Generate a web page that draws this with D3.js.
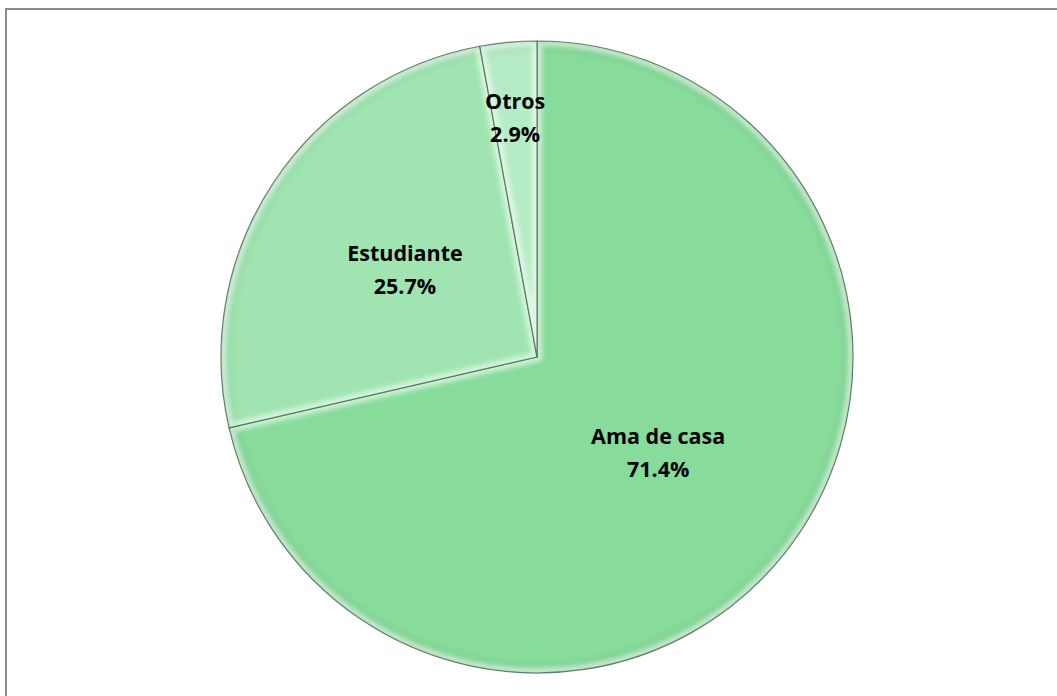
<!DOCTYPE html>
<html>
<head>
<meta charset="utf-8">
<script src="https://cdn.jsdelivr.net/npm/d3@7"></script>
<style>
  html, body { margin: 0; padding: 0; background: #fff; }
  svg { display: block; }
</style>
</head>
<body>
<script>
// Ocupación: share of respondents per category
const categories = ["Ama de casa", "Estudiante", "Otros"];
const values = [71.4, 25.7, 2.9];
const sliceColors = ["#88dc9b", "#a0e5b1", "#b6ecc5"];

const W = 1057, H = 696;
const cx = 537, cy = 357, R = 316;
// how far out each label sits, as a share of the radius
const labelReach = [0.49, 0.50, 0.76];

const svg = d3.select("body").append("svg")
  .attr("width", W).attr("height", H);

const defs = svg.append("defs");
const blur = defs.append("filter").attr("id", "soft")
  .attr("x", "-10%").attr("y", "-10%").attr("width", "120%").attr("height", "120%");
blur.append("feGaussianBlur").attr("stdDeviation", 2.2);

const rim = defs.append("radialGradient").attr("id", "rim")
  .attr("gradientUnits", "userSpaceOnUse")
  .attr("cx", 0).attr("cy", 0).attr("r", R);
rim.append("stop").attr("offset", "0.95").attr("stop-color", "#1e4a2a").attr("stop-opacity", 0);
rim.append("stop").attr("offset", "0.99").attr("stop-color", "#1e4a2a").attr("stop-opacity", 0.08);
rim.append("stop").attr("offset", "1").attr("stop-color", "#1e4a2a").attr("stop-opacity", 0.25);

// chart area frame (top and left edges are visible)
svg.append("path")
  .attr("d", `M6,${H} L6,9 L${W},9`)
  .attr("fill", "none").attr("stroke", "#8c8c8c").attr("stroke-width", 2);

const pie = d3.pie().sort(null).value(d => d)
  .startAngle(0).endAngle(2 * Math.PI);
const arcs = pie(values);
const arc = d3.arc().innerRadius(0).outerRadius(R);

const g = svg.append("g").attr("transform", `translate(${cx},${cy})`);

arcs.forEach((a, i) => {
  defs.append("clipPath").attr("id", "clip" + i)
    .append("path").attr("d", arc(a));
});

const slices = g.selectAll("g.slice").data(arcs).join("g").attr("class", "slice");

slices.append("path")
  .attr("d", arc)
  .attr("fill", (d, i) => sliceColors[i]);

// outer rim shading
slices.append("path")
  .attr("d", arc)
  .attr("fill", "url(#rim)");

// bevel highlight along each slice's edges
slices.append("g")
  .attr("clip-path", (d, i) => `url(#clip${i})`)
  .append("path")
  .attr("d", arc)
  .attr("fill", "none")
  .attr("stroke", "#ffffff")
  .attr("stroke-opacity", 0.55)
  .attr("stroke-width", 10)
  .attr("filter", "url(#soft)");

// dark edge line
slices.append("path")
  .attr("d", arc)
  .attr("fill", "none")
  .attr("stroke", "#3f5e47")
  .attr("stroke-opacity", 0.75)
  .attr("stroke-width", 1.2)
  .attr("stroke-linejoin", "round");

// data labels
const labels = g.selectAll("text.lbl").data(arcs).join("text")
  .attr("class", "lbl")
  .attr("transform", (d, i) => {
    const r = R * labelReach[i];
    const c = d3.arc().innerRadius(r).outerRadius(r).centroid(d);
    return `translate(${c[0]},${c[1]})`;
  })
  .attr("text-anchor", "middle")
  .style("font-family", "'Open Sans', Lato, sans-serif")
  .style("font-weight", "bold")
  .style("font-size", "21.5px")
  .attr("fill", "#000");

labels.append("tspan").attr("x", 0).attr("y", -9)
  .text((d, i) => categories[i]);
labels.append("tspan").attr("x", 0).attr("y", 24)
  .text(d => d.data.toFixed(1) + "%");
</script>
</body>
</html>
